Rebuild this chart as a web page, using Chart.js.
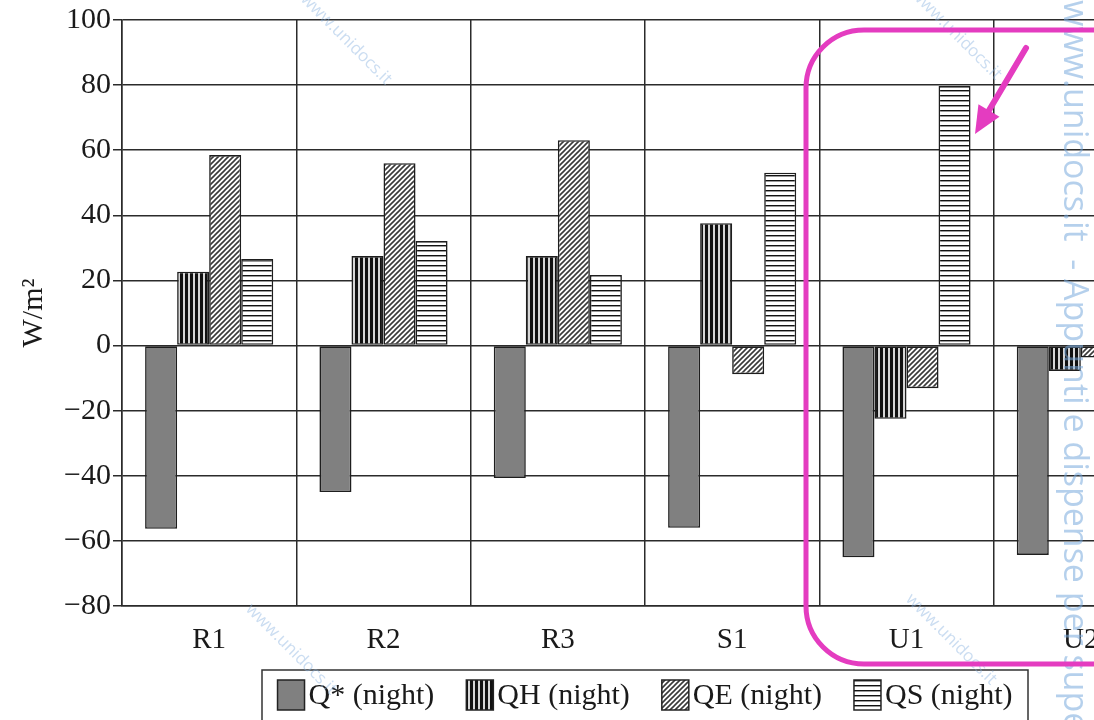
<!DOCTYPE html>
<html>
<head>
<meta charset="utf-8">
<script src="https://cdn.jsdelivr.net/npm/chart.js@4.4.1/dist/chart.umd.min.js"></script>
<style>
  html, body { margin: 0; padding: 0; background: #fff; overflow: hidden; }
  #wrap { width: 1094px; height: 720px; overflow: hidden; position: relative; }
  canvas { display: block; }
</style>
</head>
<body>
<div id="wrap"><canvas id="c" width="1200" height="720"></canvas></div>
<script>
// Night-time surface energy balance by site (W/m2)
const sites = ['R1', 'R2', 'R3', 'S1', 'U1', 'U2'];
const seriesNames = ['Q* (night)', 'QH (night)', 'QE (night)', 'QS (night)'];
const qStar = [-56.3, -45, -40.7, -56, -65, -64.3];
const qH    = [22.7, 27.5, 27.5, 37.6, -22.5, -7.8];
const qE    = [58.5, 56, 63.1, -8.8, -13.1, -3.7];
const qS    = [26.6, 32.1, 21.7, 53.1, 79.7, 70];
const yMin = -80, yMax = 100, yStep = 20;
const yTitle = 'W/m\u00B2';

const FONT = "'Liberation Serif', 'Times New Roman', serif";
const INK = '#2b2b2b';

// hatch fills for the monochrome bars
function makePattern(kind) {
  const c = document.createElement('canvas');
  const g = c.getContext('2d');
  if (kind === 'vertical') {
    c.width = 5; c.height = 5;
    g.fillStyle = '#d6d6d6'; g.fillRect(0, 0, 5, 5);
    g.fillStyle = '#111'; g.fillRect(0, 0, 3, 5);
  } else if (kind === 'diagonal') {
    c.width = 5; c.height = 5;
    g.fillStyle = '#fff'; g.fillRect(0, 0, 5, 5);
    g.strokeStyle = '#3a3a3a'; g.lineWidth = 1.6;
    g.beginPath();
    g.moveTo(-1, 6); g.lineTo(6, -1);
    g.moveTo(-1, 1); g.lineTo(1, -1);
    g.moveTo(4, 6); g.lineTo(6, 4);
    g.stroke();
  } else {
    c.width = 4; c.height = 5;
    g.fillStyle = '#fff'; g.fillRect(0, 0, 4, 5);
    g.fillStyle = '#111'; g.fillRect(0, 0, 4, 1);
    g.fillStyle = '#999'; g.fillRect(0, 1, 4, 1);
  }
  return g.createPattern(c, 'repeat');
}

const fills = ['#808080', makePattern('vertical'), makePattern('diagonal'), makePattern('horizontal')];
const values = [qStar, qH, qE, qS];

const datasets = seriesNames.map((name, i) => ({
  label: name,
  data: values[i],
  backgroundColor: fills[i],
  borderColor: '#1e1e1e',
  borderWidth: 1.6,
  borderSkipped: false,
  categoryPercentage: 0.735,
  barPercentage: 1.0
}));

// boxed legend centred under the plot
const boxedLegend = {
  id: 'boxedLegend',
  afterDraw(chart) {
    const ctx = chart.ctx;
    const area = chart.chartArea;
    const cx = (area.left + area.right) / 2;
    const boxW = 766, boxTop = 670, boxBottom = 740;
    const boxL = cx - boxW / 2;
    ctx.save();
    ctx.font = '30px ' + FONT;
    const sw = 27, sh = 30, gapText = 4, gapItem = 32;
    const widths = chart.data.datasets.map(d => ctx.measureText(d.label).width);
    const total = widths.reduce((a, w) => a + sw + gapText + w, 0) + gapItem * (widths.length - 1);
    let x = cx - total / 2;
    const midY = 695;
    ctx.strokeStyle = '#333'; ctx.lineWidth = 1.5;
    ctx.strokeRect(boxL, boxTop, boxW, boxBottom - boxTop);
    chart.data.datasets.forEach((d, i) => {
      ctx.fillStyle = d.backgroundColor;
      ctx.fillRect(x, midY - sh / 2, sw, sh);
      ctx.strokeStyle = '#222'; ctx.lineWidth = 1.5;
      ctx.strokeRect(x, midY - sh / 2, sw, sh);
      x += sw + gapText;
      ctx.fillStyle = '#1a1a1a';
      ctx.textBaseline = 'middle';
      ctx.textAlign = 'left';
      ctx.fillText(d.label, x, midY + 1);
      x += widths[i] + gapItem;
    });
    ctx.restore();
  }
};

// highlight frame around U1, pointer arrow and watermark text
const overlay = {
  id: 'overlay',
  afterDraw(chart) {
    const ctx = chart.ctx;
    ctx.save();
    // watermark
    ctx.fillStyle = 'rgba(120,170,220,0.55)';
    ctx.font = '34px "Open Sans", "DejaVu Sans", sans-serif';
    ctx.save();
    ctx.translate(1064, 0);
    ctx.rotate(Math.PI / 2);
    ctx.textBaseline = 'middle';
    ctx.fillText('www.unidocs.it  - Appunti e dispense per superare', 0, -10);
    ctx.restore();
    ctx.fillStyle = 'rgba(140,180,225,0.45)';
    ctx.font = '17px "Open Sans", "DejaVu Sans", sans-serif';
    [[300, 0], [910, -5], [245, 610], [905, 600]].forEach(([x, y]) => {
      ctx.save();
      ctx.translate(x, y);
      ctx.rotate(Math.PI / 4);
      ctx.fillText('www.unidocs.it', 0, 0);
      ctx.restore();
    });
    // frame
    ctx.strokeStyle = '#e43cc0';
    ctx.lineWidth = 5;
    const L = 806, T = 30, R = 1160, B = 664, r = 58;
    ctx.beginPath();
    ctx.moveTo(R, T);
    ctx.lineTo(L + r, T);
    ctx.arcTo(L, T, L, T + r, r);
    ctx.lineTo(L, B - r);
    ctx.arcTo(L, B, L + r, B, r);
    ctx.lineTo(R, B);
    ctx.stroke();
    // arrow
    ctx.lineWidth = 6;
    ctx.lineCap = 'round';
    const x0 = 1026, y0 = 48, x1 = 975, y1 = 134;
    const ang = Math.atan2(y1 - y0, x1 - x0);
    ctx.beginPath();
    ctx.moveTo(x0, y0);
    ctx.lineTo(x1 - 18 * Math.cos(ang), y1 - 18 * Math.sin(ang));
    ctx.stroke();
    ctx.fillStyle = '#e43cc0';
    ctx.beginPath();
    ctx.moveTo(x1, y1);
    ctx.lineTo(x1 - 30 * Math.cos(ang - 0.42), y1 - 30 * Math.sin(ang - 0.42));
    ctx.lineTo(x1 - 30 * Math.cos(ang + 0.42), y1 - 30 * Math.sin(ang + 0.42));
    ctx.closePath();
    ctx.fill();
    ctx.restore();
  }
};

new Chart(document.getElementById('c'), {
  type: 'bar',
  data: { labels: sites, datasets },
  options: {
    responsive: false,
    animation: false,
    devicePixelRatio: 1,
    layout: { padding: { top: 20, right: 32, left: 0, bottom: 0 } },
    plugins: {
      legend: { display: false },
      tooltip: { enabled: false }
    },
    scales: {
      x: {
        grid: { offset: true, color: INK, lineWidth: 1.5, drawTicks: false },
        border: { color: INK, width: 1.5 },
        ticks: { font: { family: FONT, size: 29 }, color: '#1a1a1a', padding: 17 },
        afterFit(s) { s.height = 114; }
      },
      y: {
        min: yMin, max: yMax,
        grid: { color: INK, lineWidth: 1.5, tickLength: 9 },
        border: { color: INK, width: 1.5 },
        ticks: {
          stepSize: yStep,
          font: { family: FONT, size: 30 },
          color: '#1a1a1a',
          padding: 2,
          callback: v => (v < 0 ? '\u2212' + Math.abs(v) : String(v))
        },
        title: {
          display: true, text: yTitle,
          font: { family: FONT, size: 30 }, color: '#1a1a1a',
          padding: { top: 16, bottom: 0 }
        },
        afterFit(s) { s.width = 122; }
      }
    }
  },
  plugins: [boxedLegend, overlay]
});
</script>
</body>
</html>
